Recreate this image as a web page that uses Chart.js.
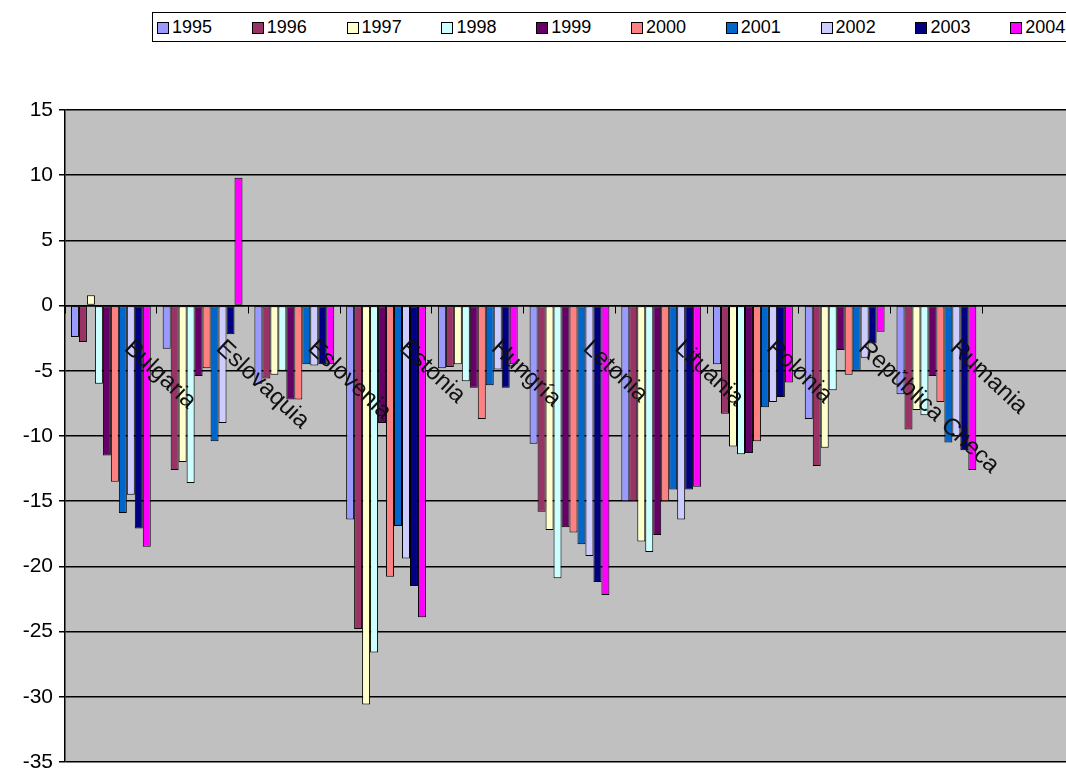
<!DOCTYPE html>
<html>
<head>
<meta charset="utf-8">
<title>Balanza por país 1995–2004</title>
<script src="https://cdn.jsdelivr.net/npm/chart.js@4.4.1/dist/chart.umd.min.js"></script>
<style>
  html, body { margin: 0; padding: 0; background: #fff; overflow: hidden; width: 1066px; height: 769px; }
  #wrap { position: relative; width: 1090px; height: 769px; }
  canvas { position: absolute; left: 0; top: 0; }
  #legend {
    position: absolute; left: 152px; top: 12px; width: 1000px; height: 28px;
    border: 1px solid #000; background: #fff;
    font-family: "Liberation Sans", Arial, sans-serif; font-size: 18px; color: #000;
  }
  .item { position: absolute; top: 0; height: 28px; line-height: 28px; white-space: nowrap; }
  .sw { display: inline-block; width: 10px; height: 10px; border: 1px solid #000; margin-right: 3px; vertical-align: -1px; }
</style>
</head>
<body>
<div id="wrap">
  <canvas id="chart" width="1090" height="769"></canvas>
  <div id="legend"></div>
</div>
<script>
// Countries along the category axis (the last slot is left empty)
const categories = ['Bulgaria', 'Eslovaquia', 'Eslovenia', 'Estonia', 'Hungría',
                    'Letonia', 'Lituania', 'Polonia', 'República Checa', 'Rumania', ''];

// Series names
const years = ['1995', '1996', '1997', '1998', '1999', '2000', '2001', '2002', '2003', '2004'];

// Values per year, one per country in the order of `categories`
const v1995 = [-2.4, -3.3, -6.0, -16.4, -4.8, -10.6, -15.0, -4.5, -8.7, -6.8];
const v1996 = [-2.8, -12.6, -5.6, -24.8, -4.7, -15.8, -15.0, -8.3, -12.3, -9.5];
const v1997 = [0.8, -12.0, -5.3, -30.6, -4.5, -17.2, -18.1, -10.8, -10.9, -8.0];
const v1998 = [-6.0, -13.6, -5.0, -26.6, -5.8, -20.9, -18.9, -11.4, -6.5, -8.4];
const v1999 = [-11.5, -5.4, -7.2, -9.0, -6.3, -17.0, -17.6, -11.3, -3.4, -5.4];
const v2000 = [-13.5, -4.8, -7.2, -20.8, -8.7, -17.4, -15.0, -10.4, -5.3, -7.4];
const v2001 = [-15.9, -10.4, -4.5, -16.9, -6.1, -18.3, -14.1, -7.8, -5.0, -10.5];
const v2002 = [-14.5, -9.0, -4.6, -19.4, -4.9, -19.2, -16.4, -7.4, -4.0, -10.0];
const v2003 = [-17.1, -2.2, -4.5, -21.5, -6.3, -21.2, -14.1, -7.0, -2.9, -11.1];
const v2004 = [-18.5, 9.8, -4.5, -23.9, -4.5, -22.2, -13.9, -5.9, -2.0, -12.6];

// Value axis range and step
const yMin = -35;
const yMax = 15;
const yStep = 5;

const seriesValues = [v1995, v1996, v1997, v1998, v1999, v2000, v2001, v2002, v2003, v2004];
const seriesColors = ['#9999FF', '#993366', '#FFFFCC', '#CCFFFF', '#660066',
                      '#FF8080', '#0066CC', '#CCCCFF', '#000080', '#FF00FF'];

const FONT = "'Liberation Sans', Arial, sans-serif";
Chart.defaults.font.family = FONT;
Chart.defaults.color = '#000';

// Grey plot area behind the bars
const plotBackground = {
  id: 'plotBackground',
  beforeDraw(chart) {
    const { ctx, chartArea: a } = chart;
    ctx.save();
    ctx.fillStyle = '#C0C0C0';
    ctx.fillRect(a.left, a.top, a.right - a.left, a.bottom - a.top);
    ctx.restore();
  }
};

// Country names, slanted downwards, hanging from the zero line
const slantedCategoryLabels = {
  id: 'slantedCategoryLabels',
  afterDraw(chart) {
    const { ctx } = chart;
    const xs = chart.scales.x, ys = chart.scales.y;
    const y0 = ys.getPixelForValue(0);
    ctx.save();
    ctx.font = '24px ' + FONT;
    ctx.fillStyle = '#111';
    ctx.textAlign = 'left';
    ctx.textBaseline = 'middle';
    categories.forEach((name, i) => {
      if (!name) return;
      const x = xs.getPixelForValue(i);
      ctx.save();
      ctx.translate(x + 17, y0 + 39);
      ctx.rotate(43 * Math.PI / 180);
      ctx.fillText(name, 0, 0);
      ctx.restore();
    });
    ctx.restore();
  }
};

const datasets = years.map((yr, i) => ({
  label: yr,
  data: seriesValues[i],
  backgroundColor: seriesColors[i],
  borderColor: '#000',
  borderWidth: 1,
  borderSkipped: false,
  categoryPercentage: 0.87,
  barPercentage: 1.0
}));

new Chart(document.getElementById('chart'), {
  type: 'bar',
  data: { labels: categories, datasets },
  options: {
    responsive: false,
    animation: false,
    devicePixelRatio: 1,
    layout: { padding: { top: 110, bottom: 7, left: 0, right: 16 } },
    plugins: { legend: { display: false }, tooltip: { enabled: false } },
    scales: {
      x: {
        type: 'category',
        position: { y: 0 },
        offset: true,
        grid: { offset: true, drawOnChartArea: false, drawTicks: true, tickLength: 7, color: '#000', lineWidth: 1 },
        border: { display: true, color: '#000', width: 1.5 },
        ticks: { display: false }
      },
      y: {
        min: yMin,
        max: yMax,
        ticks: { stepSize: yStep, font: { size: 21 }, color: '#000', padding: 6 },
        grid: { color: '#000', lineWidth: 1.5, drawTicks: true, tickLength: 6 },
        border: { display: true, color: '#000', width: 1.5 },
        afterFit(scale) {
          scale.width = 65;
          scale.paddingTop = 0;
          scale.paddingBottom = 0;
        }
      }
    }
  },
  plugins: [plotBackground, slantedCategoryLabels]
});

// Legend row built from the series names and colours
const legend = document.getElementById('legend');
years.forEach((yr, i) => {
  const item = document.createElement('div');
  item.className = 'item';
  item.style.left = (4 + i * 94.8) + 'px';
  const sw = document.createElement('span');
  sw.className = 'sw';
  sw.style.background = seriesColors[i];
  item.appendChild(sw);
  item.appendChild(document.createTextNode(yr));
  legend.appendChild(item);
});
</script>
</body>
</html>
